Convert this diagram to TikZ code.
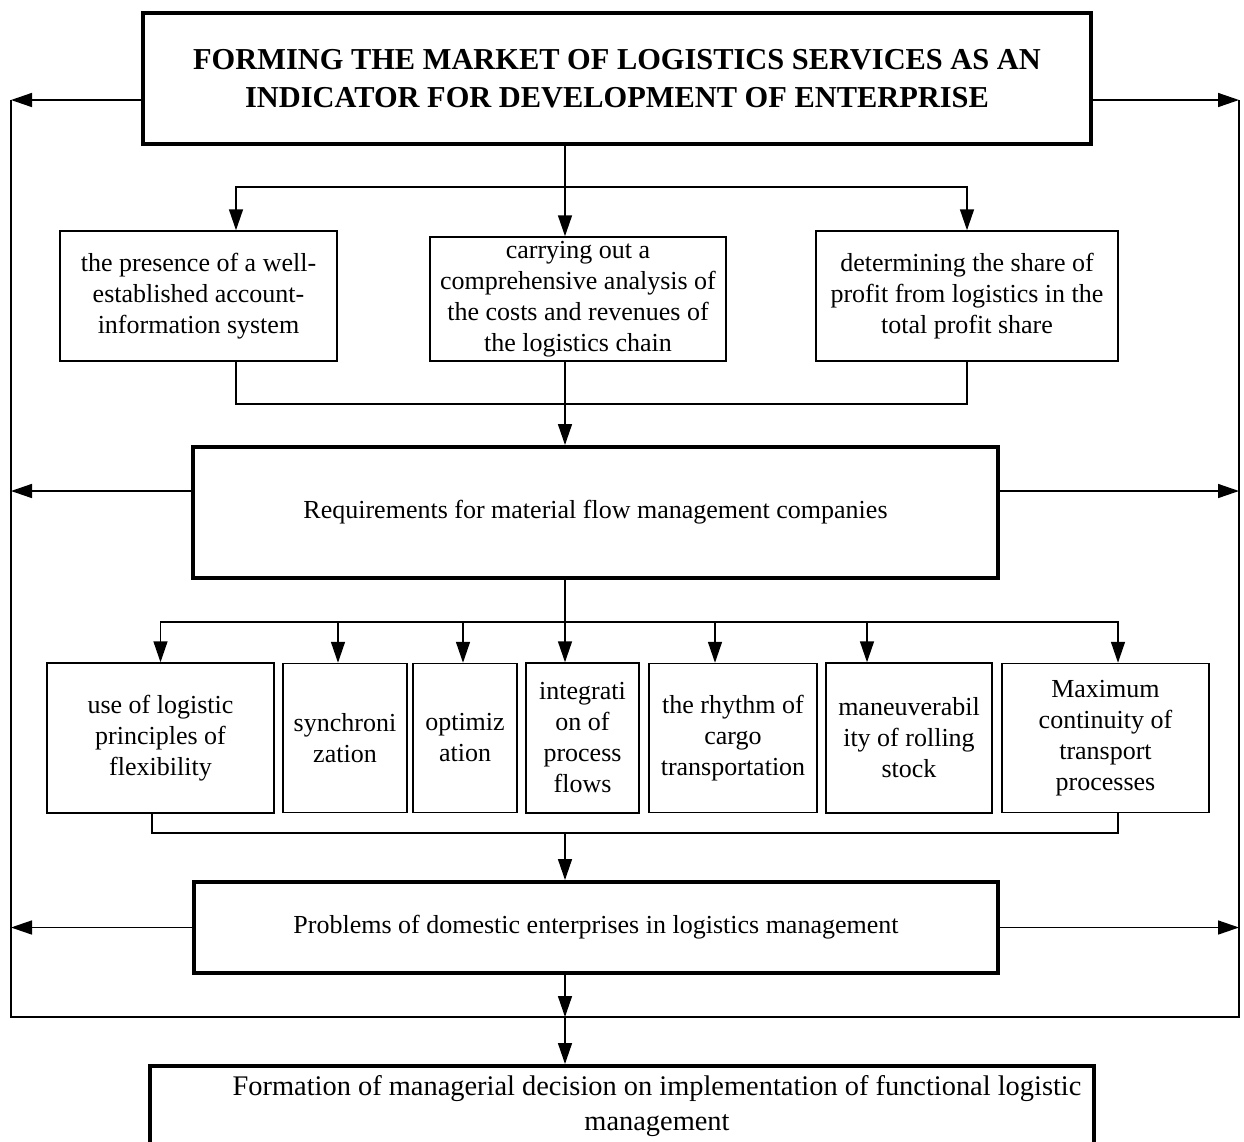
\documentclass[tikz,border=0pt]{standalone}
\usepackage{fontspec}
\setmainfont{Liberation Serif}
\usetikzlibrary{arrows.meta,positioning}

\begin{document}
\begin{tikzpicture}[->,>={Triangle[length=10.5pt,width=7pt]},x=0.5pt,y=-0.5pt,
                    line width=0.75pt]
  \tikzstyle{every node}=[font=\fontsize{13}{15.5}\selectfont]
  \tikzstyle{item}=[draw,align=center,inner sep=0pt,line width=0.75pt]
  \tikzstyle{mainbox}=[item,line width=2pt]

  \useasboundingbox (0,0) rectangle (1244,1142);
  \clip (0,0) rectangle (1244,1142);

  \node[mainbox,minimum width=474pt,minimum height=65.5pt,
        font=\fontsize{15.2}{19}\selectfont\bfseries] (A) at (617,78.5)
        {FORMING THE MARKET OF LOGISTICS SERVICES AS AN\\INDICATOR FOR DEVELOPMENT OF ENTERPRISE};

  \node[item,minimum width=138.5pt,minimum height=65pt] (B) at (198.5,296)
        {the presence of a well-\\established account-\\information system};
  \node[item,minimum width=148pt,minimum height=62pt] (C) [right=45.75pt of B,yshift=-1.5pt]
        {carrying out a\\comprehensive analysis of\\the costs and revenues of\\the logistics chain};
  \node[item,minimum width=151pt,minimum height=65pt] (D) [right=44.25pt of C,yshift=1.5pt]
        {determining the share of\\profit from logistics in the\\total profit share};

  \node[mainbox,minimum width=402.5pt,minimum height=65.5pt] (E) at (595.5,512.5)
        {Requirements for material flow management companies};

  \node[item,minimum width=113.5pt,minimum height=75pt] (F1) at (160.5,738)
        {use of logistic\\principles of\\flexibility};
  \node[item,minimum width=62pt,minimum height=74.5pt] (F2) [right=3.75pt of F1]
        {synchroni\\zation};
  \node[item,minimum width=52pt,minimum height=74.5pt] (F3) [right=2.25pt of F2]
        {optimiz\\ation};
  \node[item,minimum width=56.5pt,minimum height=75pt] (F4) [right=3.75pt of F3]
        {integrati\\on of\\process\\flows};
  \node[item,minimum width=84pt,minimum height=74.5pt] (F5) [right=4.25pt of F4]
        {the rhythm of\\cargo\\transportation};
  \node[item,minimum width=83pt,minimum height=75pt] (F6) [right=3.75pt of F5]
        {maneuverabil\\ity of rolling\\stock};
  \node[item,minimum width=103.5pt,minimum height=74.5pt] (F7) [right=4.25pt of F6]
        {Maximum\\continuity of\\transport\\processes};

  \node[mainbox,minimum width=402pt,minimum height=45.5pt] (G) at (596,927.5)
        {Problems of domestic enterprises in logistics management};

  \node[mainbox,minimum width=472pt,minimum height=40pt,
        font=\fontsize{14.2}{17.5}\selectfont] (H) at (622,1106)
        {\hspace*{35pt}Formation of managerial decision on implementation of functional logistic\\
         \hspace*{35pt}management};

  % outer frame
  \coordinate (NW) at (11,100);
  \coordinate (SW) at (11,1017);
  \coordinate (SE) at (1239,1017);
  \coordinate (NE) at (1239,100);
  \draw[-] (NW) -- (SW) -- (SE) -- (NE);

  \draw (A.west |- NW) -- (NW);
  \draw (A.east |- NE) -- (NE);
  \draw ([yshift=10.75pt]E.west) -- ([yshift=10.75pt]E.west -| NW);
  \draw ([yshift=10.75pt]E.east) -- ([yshift=10.75pt]E.east -| NE);
  \draw (G.west) -- (G.west -| NW);
  \draw (G.east) -- (G.east -| NE);

  % first level
  \coordinate (S1) at (565,187);
  \coordinate (S2) at (565,404);
  \draw[-] (A.south -| S1) -- (S1);
  \draw (S1) -| ([xshift=18.75pt]B.north);
  \draw (S1) -- (S1 |- C.north);
  \draw (S1) -| (D.north);
  \draw[-] ([xshift=18.75pt]B.south) |- (D.south |- S2) -- (D.south);
  \draw (C.south -| S2) -- (E.north -| S2);

  % second level
  \coordinate (S3) at (565,622);
  \coordinate (S4) at (565,833);
  \draw[-] (E.south -| S3) -- (S3);
  \draw (S3) -| (F1.north);
  \draw (S3) -| ([xshift=-3.5pt]F2.north);
  \draw (S3) -| ([xshift=-1pt]F3.north);
  \draw (S3) -- (S3 |- F4.north);
  \draw (S3) -| ([xshift=-9pt]F5.north);
  \draw (S3) -| ([xshift=-21pt]F6.north);
  \draw (S3) -| ([xshift=6.25pt]F7.north);
  \draw[-] ([xshift=-4.25pt]F1.south) |- ([xshift=6.25pt]F7.south |- S4) -- ([xshift=6.25pt]F7.south);
  \draw (S4) -- (G.north -| S4);

  % decision
  \coordinate (S5) at (565,1017);
  \draw (G.south -| S5) -- (S5);
  \draw (S5) -- (H.north -| S5);
\end{tikzpicture}
\end{document}
